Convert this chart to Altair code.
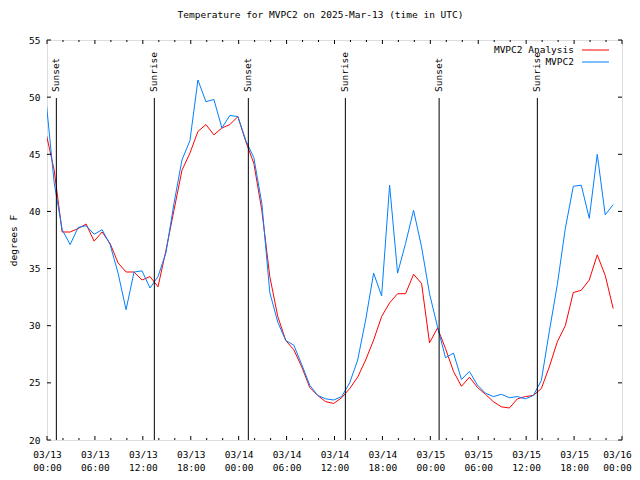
import json
import altair as alt
import pandas as pd

# ---------------- data ----------------
# observation times, hours after 03/13 00:00 UTC (hourly, ~:54 past the hour)
hours = [i - 0.1 for i in range(72)]

analysis = [46.8, 43.6, 38.2, 38.2, 38.5, 38.9, 37.4, 38.2, 37.2, 35.5,
            34.7, 34.7, 34.0, 34.3, 33.4, 36.6, 40.1, 43.6, 45.1, 47.0,
            47.6, 46.7, 47.3, 47.6, 48.3, 46.1, 44.2, 40.1, 34.3, 30.8,
            28.7, 27.9, 26.4, 24.6, 23.9, 23.35, 23.2, 23.7, 24.5, 25.5,
            27.0, 28.75, 30.8, 32.0, 32.8, 32.8, 34.5, 33.7, 28.5, 29.8,
            28.0, 26.0, 24.7, 25.5, 24.6, 24.0, 23.35, 22.9, 22.8, 23.6,
            23.8, 23.9, 24.5, 26.4, 28.6, 30.0, 32.9, 33.1, 34.0, 36.2,
            34.4, 31.5]

mvpc2 = [49.6, 42.5, 38.4, 37.1, 38.6, 38.75, 38.0, 38.4, 37.1, 34.6,
         31.4, 34.7, 34.8, 33.3, 34.3, 36.4, 40.7, 44.5, 46.2, 51.5,
         49.6, 49.8, 47.3, 48.4, 48.3, 46.2, 44.7, 40.7, 32.9, 30.3,
         28.7, 28.3, 26.6, 24.8, 23.9, 23.6, 23.5, 23.8, 25.0, 27.0,
         30.5, 34.6, 32.6, 42.3, 34.6, 37.2, 40.1, 36.9, 32.8, 29.9,
         27.2, 27.6, 25.3, 26.0, 24.8, 24.1, 23.8, 24.0, 23.7, 23.8,
         23.6, 23.9, 25.2, 29.5, 33.6, 38.5, 42.2, 42.3, 39.4, 45.0,
         39.7, 40.6]

event_hours = [1.17, 13.44, 25.21, 37.36, 49.1, 61.4]
event_labels = ["Sunset", "Sunrise", "Sunset", "Sunrise", "Sunset", "Sunrise"]

major_hours = [0, 6, 12, 18, 24, 30, 36, 42, 48, 54, 60, 66, 72]
minor_hours = [2, 4, 8, 10, 14, 16, 20, 22, 26, 28, 32, 34, 38, 40, 44, 46,
               50, 52, 56, 58, 62, 64, 68, 70]
tick_dates = ["03/13", "03/13", "03/13", "03/13", "03/14", "03/14", "03/14",
              "03/14", "03/15", "03/15", "03/15", "03/15", "03/16"]
tick_times = ["00:00", "06:00", "12:00", "18:00", "00:00", "06:00", "12:00",
              "18:00", "00:00", "06:00", "12:00", "18:00", "00:00"]
y_ticks = [20, 25, 30, 35, 40, 45, 50, 55]

series_names = ["MVPC2 Analysis", "MVPC2"]
series_colors = ["#ff0000", "#0080ff"]

# ---------------- chart ----------------
W, H = 575, 400
FONT = "DejaVu Sans Mono"
FS = 9.5

df_a = pd.DataFrame({"hour": hours, "temp": analysis})
df_m = pd.DataFrame({"hour": hours, "temp": mvpc2})
df_ev = pd.DataFrame({"hour": event_hours, "label": event_labels})
df_major = pd.DataFrame({"hour": major_hours})
df_minor = pd.DataFrame({"hour": minor_hours})
df_y = pd.DataFrame({"temp": y_ticks})

x_scale = alt.Scale(domain=[0, 72], nice=False, zero=False)
y_scale = alt.Scale(domain=[20, 55], nice=False, zero=False)

label_expr = ("[" + json.dumps(tick_dates) + "[round(datum.value/6)], "
              + json.dumps(tick_times) + "[round(datum.value/6)]]")

x_axis = alt.Axis(values=major_hours, labelExpr=label_expr, ticks=False,
                  tickSize=0, domain=False, grid=False, title=None,
                  labelFont=FONT, labelFontSize=FS, labelColor="black",
                  labelPadding=9, labelLineHeight=13, labelAngle=0,
                  labelBaseline="top", labelFlush=False, labelOverlap=False,
                  labelOffset={"condition": {"test": "datum.value >= 72",
                                             "value": -5},
                               "value": 0})
y_axis = alt.Axis(values=y_ticks, ticks=False, tickSize=0, domain=False,
                  grid=False, title="degrees F", titleFont=FONT,
                  titleFontSize=FS, titleFontWeight="normal",
                  titleColor="black", titlePadding=10, labelFont=FONT,
                  labelFontSize=FS, labelColor="black", labelPadding=7,
                  labelFlush=False)

X = alt.X("hour:Q", scale=x_scale, axis=x_axis)
Y = alt.Y("temp:Q", scale=y_scale, axis=y_axis)

line_a = alt.Chart(df_a).mark_line(color=series_colors[0], strokeWidth=1,
                                   clip=True).encode(x=X, y=Y)
line_m = alt.Chart(df_m).mark_line(color=series_colors[1], strokeWidth=1,
                                   clip=True).encode(x=X, y=Y)

ev_rules = alt.Chart(df_ev).mark_rule(color="black", strokeWidth=1).encode(
    x=X, y=alt.value(58), y2=alt.value(H))
ev_text = alt.Chart(df_ev).mark_text(
    angle=270, align="left", baseline="middle", font=FONT, fontSize=FS,
    color="black").encode(x=X, y=alt.value(52), text="label:N")

tick_style = dict(color="black", strokeWidth=1)
maj_b = alt.Chart(df_major).mark_rule(**tick_style).encode(
    x=X, y=alt.value(H), y2=alt.value(H - 4))
maj_t = alt.Chart(df_major).mark_rule(**tick_style).encode(
    x=X, y=alt.value(0), y2=alt.value(4))
min_b = alt.Chart(df_minor).mark_rule(**tick_style).encode(
    x=X, y=alt.value(H), y2=alt.value(H - 2))
min_t = alt.Chart(df_minor).mark_rule(**tick_style).encode(
    x=X, y=alt.value(0), y2=alt.value(2))
y_l = alt.Chart(df_y).mark_rule(**tick_style).encode(
    y=Y, x=alt.value(0), x2=alt.value(4))
y_r = alt.Chart(df_y).mark_rule(**tick_style).encode(
    y=Y, x=alt.value(W), x2=alt.value(W - 4))

# legend (gnuplot style: label then line sample)
leg = []
for i, (name, col) in enumerate(zip(series_names, series_colors)):
    ly = 10 + 12 * i
    ldf = pd.DataFrame({"series": [name]})
    leg.append(alt.Chart(ldf).mark_text(
        align="right", baseline="middle", font=FONT, fontSize=FS,
        color="black").encode(text="series:N", x=alt.value(527),
                              y=alt.value(ly)))
    leg.append(alt.Chart(ldf).mark_rule(color=col, strokeWidth=1).encode(
        x=alt.value(535), x2=alt.value(562), y=alt.value(ly)))

chart = alt.layer(
    line_a, line_m, ev_rules, ev_text, maj_b, maj_t, min_b, min_t, y_l, y_r,
    *leg
).properties(
    width=W, height=H,
    title=alt.TitleParams("Temperature for MVPC2 on 2025-Mar-13 (time in UTC)",
                          font=FONT, fontSize=FS, fontWeight="normal",
                          color="black", anchor="middle", offset=16, dx=-14),
    autosize=alt.AutoSizeParams(type="none"),
    padding={"left": 39, "top": 32, "right": 10, "bottom": 32},
).configure_view(stroke="black", strokeWidth=1).configure(background="white")

chart.save("out.html", embed_options={"renderer": "svg", "actions": False})
